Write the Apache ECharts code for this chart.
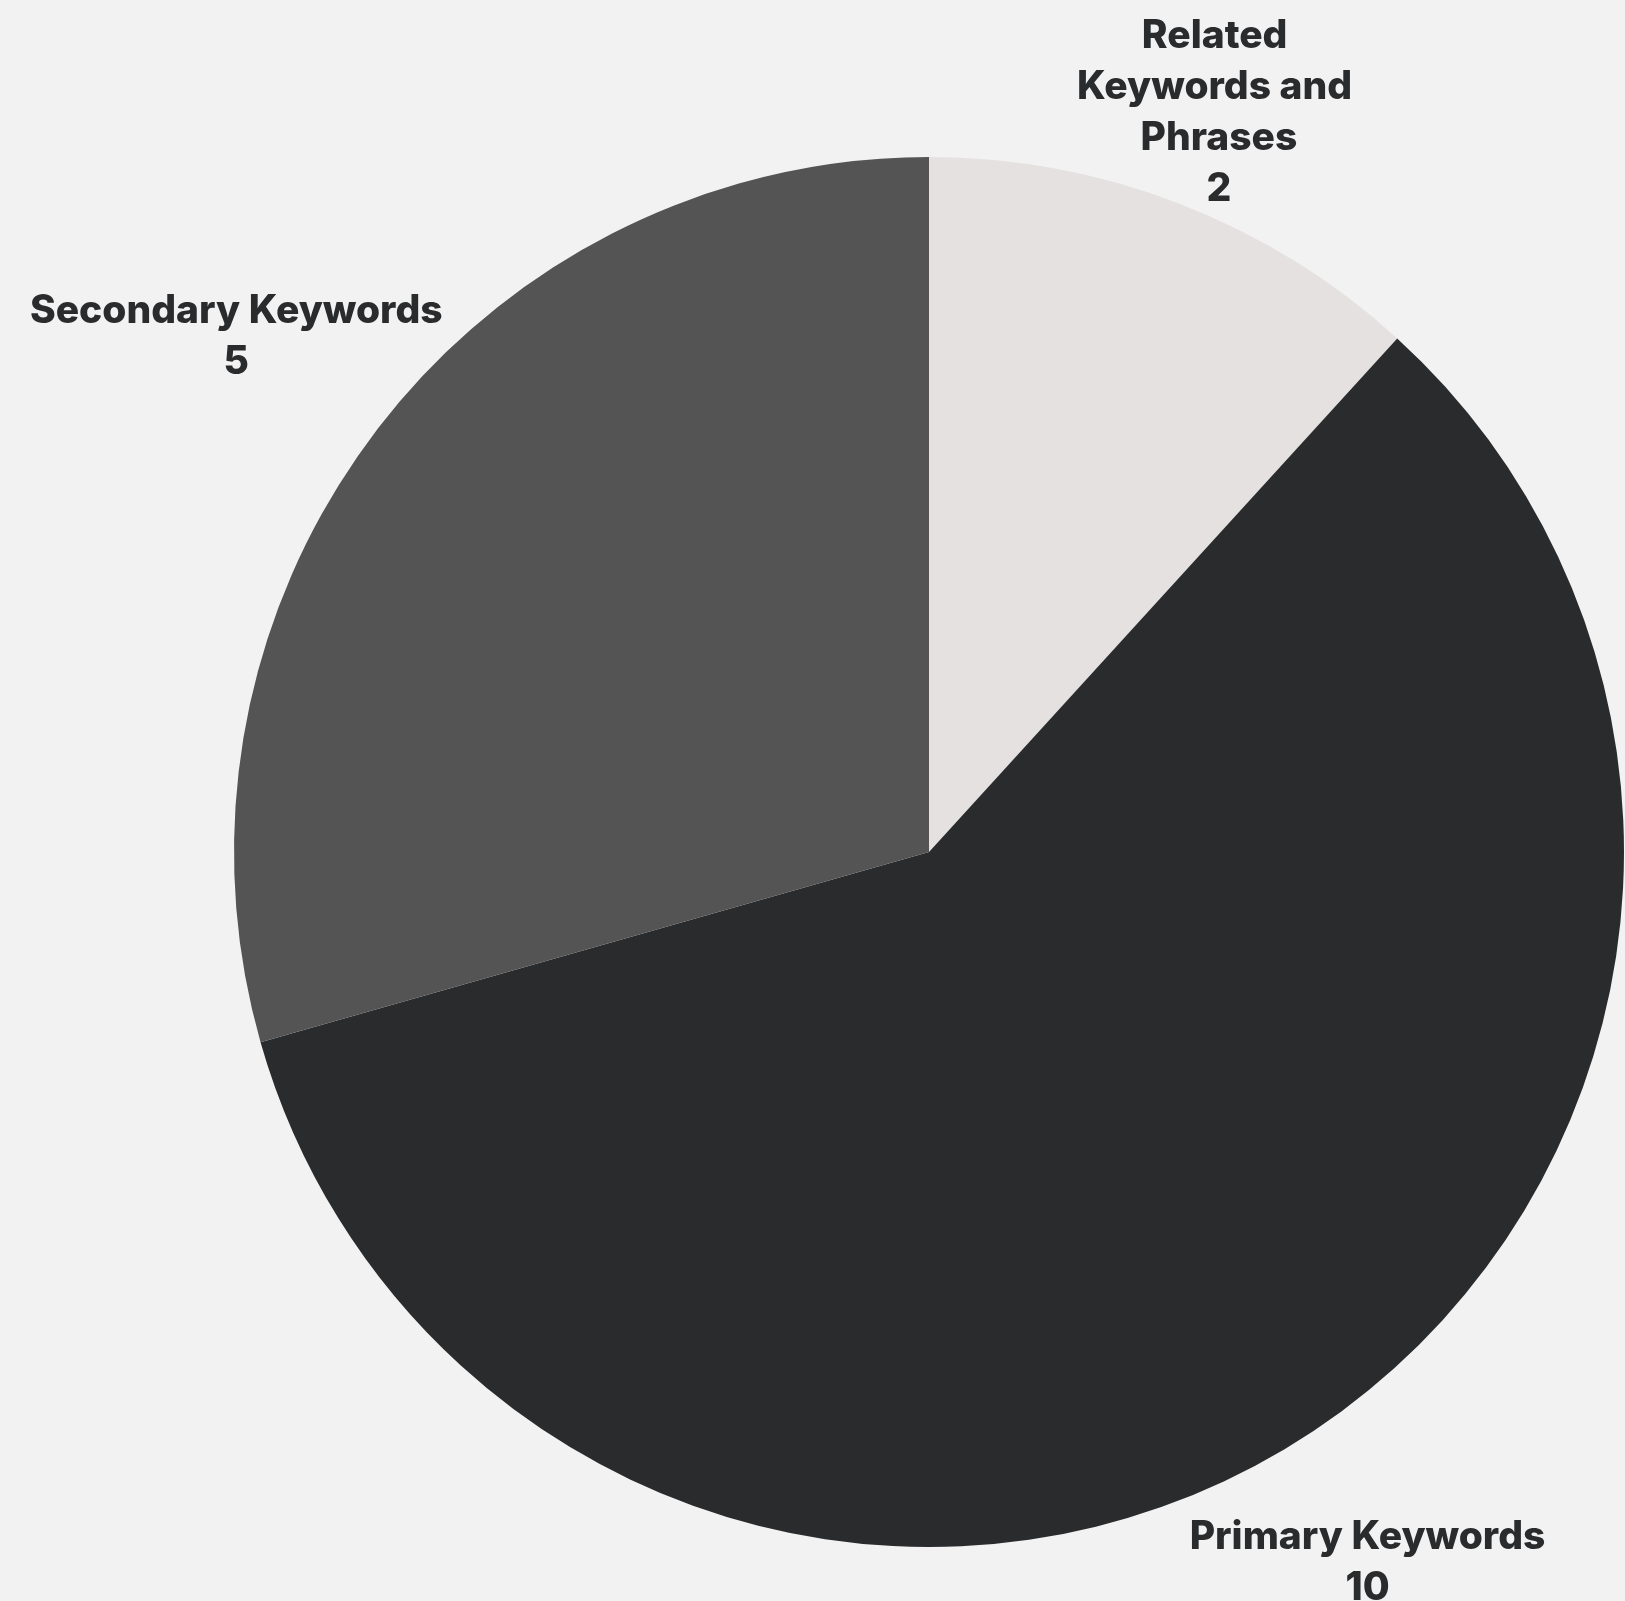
<!DOCTYPE html>
<html>
<head>
<meta charset="utf-8">
<script src="https://cdn.jsdelivr.net/npm/echarts@6/dist/echarts.min.js"></script>
<style>
  html, body { margin: 0; padding: 0; background: #f2f2f2; }
  #chart { width: 1625px; height: 1601px; }
</style>
</head>
<body>
<div id="chart"></div>
<script>
// Data
const categories = ['Related Keywords and Phrases', 'Primary Keywords', 'Secondary Keywords'];
const values = [2, 10, 5];
const sliceColors = ['#e5e1e0', '#2a2b2d', '#545454'];
// label fine offsets (style only)
const labelWrapWidth = [290, 600, 600];
const labelNudge = [[-11, 38], [0, 3], [-28, -13]];

const pieData = categories.map((c, i) => ({
  name: c,
  value: values[i],
  itemStyle: { color: sliceColors[i] }
}));
const labelData = categories.map((c, i) => ({
  name: c,
  value: values[i],
  label: { width: labelWrapWidth[i], overflow: 'break' }
}));

const chart = echarts.init(document.getElementById('chart'));
chart.setOption({
  backgroundColor: '#f2f2f2',
  animation: false,
  series: [
    {
      type: 'pie',
      center: [929, 852],
      radius: [0, 695],
      startAngle: 90,
      clockwise: true,
      silent: true,
      label: { show: false },
      labelLine: { show: false },
      itemStyle: { borderWidth: 0 },
      data: pieData
    },
    {
      type: 'pie',
      center: [929, 852],
      radius: [800, 860],
      startAngle: 90,
      clockwise: true,
      silent: true,
      itemStyle: { color: 'rgba(0,0,0,0)', borderWidth: 0 },
      labelLine: { show: false },
      label: {
        show: true,
        position: 'inside',
        fontFamily: 'Inter, "Noto Sans", sans-serif',
        fontWeight: 800,
        fontSize: 39,
        lineHeight: 51,
        color: '#2a2b2d',
        align: 'center',
        formatter: p => p.name + '\n' + p.value
      },
      labelLayout: function (params) {
        const d = labelNudge[params.dataIndex];
        return { dx: d[0], dy: d[1] };
      },
      data: labelData
    }
  ]
});
</script>
</body>
</html>
